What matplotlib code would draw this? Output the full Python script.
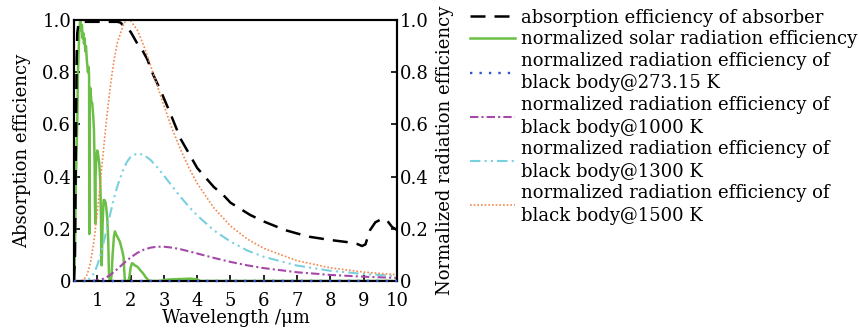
import matplotlib

matplotlib.use("Agg")
import matplotlib.pyplot as plt
from matplotlib.ticker import FixedLocator, FuncFormatter

plt.rcParams["font.family"] = ["DejaVu Serif"]
plt.rcParams["mathtext.fontset"] = "dejavuserif"

# absorber spectrum (left axis)
abs_wl = [0.30, 0.33, 0.36, 0.38, 0.40, 0.43, 0.47, 0.55, 0.8, 1.0, 1.2, 1.4,
          1.6, 1.7, 1.8, 1.9, 2.0, 2.2, 2.35, 2.5, 2.68, 2.9, 3.2, 3.5, 4.0,
          4.5, 4.78, 5.0, 5.59, 6.0, 6.64, 7.0, 7.39, 8.0, 8.5, 8.8, 8.95,
          9.05, 9.19, 9.35, 9.55, 9.7, 9.85, 10.0]
abs_eff = [0.0, 0.10, 0.55, 0.85, 0.95, 0.98, 0.99, 0.993, 0.993, 0.993, 0.993,
           0.993, 0.993, 0.99, 0.975, 0.965, 0.955, 0.91, 0.885, 0.85, 0.79,
           0.73, 0.64, 0.545, 0.433, 0.36, 0.33, 0.30, 0.253, 0.228, 0.195,
           0.182, 0.169, 0.157, 0.149, 0.142, 0.134, 0.14, 0.195, 0.225, 0.238,
           0.232, 0.207, 0.195]

# normalized AM1.5 solar spectrum (left axis)
sun_wl = [0.30, 0.32, 0.34, 0.36, 0.38, 0.40, 0.42, 0.44, 0.46, 0.48, 0.50,
          0.52, 0.54, 0.56, 0.58, 0.60, 0.62, 0.64, 0.66, 0.69, 0.72, 0.74,
          0.755, 0.76, 0.765, 0.79, 0.82, 0.85, 0.88, 0.90, 0.92, 0.93, 0.94,
          0.95, 0.97, 1.00, 1.03, 1.06, 1.09, 1.11, 1.13, 1.14, 1.16, 1.19,
          1.22, 1.25, 1.27, 1.30, 1.33, 1.35, 1.37, 1.40, 1.43, 1.46, 1.50,
          1.53, 1.56, 1.60, 1.64, 1.68, 1.72, 1.76, 1.79, 1.81, 1.83, 1.86,
          1.90, 1.94, 1.97, 2.00, 2.04, 2.08, 2.12, 2.16, 2.20, 2.25, 2.30,
          2.35, 2.40, 2.45, 2.50, 2.55, 2.70, 2.90, 3.00, 3.20, 3.40, 3.60,
          3.80, 4.00, 4.10, 5.0, 6.0, 7.0, 8.0, 9.0, 10.0]
sun_eff = [0.0, 0.05, 0.22, 0.40, 0.50, 0.62, 0.80, 0.88, 0.95, 0.99, 1.00,
           0.96, 0.98, 0.93, 0.95, 0.91, 0.93, 0.88, 0.90, 0.84, 0.80, 0.82,
           0.78, 0.18, 0.70, 0.74, 0.69, 0.68, 0.63, 0.58, 0.45, 0.30, 0.22,
           0.40, 0.47, 0.50, 0.48, 0.45, 0.38, 0.25, 0.06, 0.10, 0.22, 0.31,
           0.31, 0.30, 0.28, 0.24, 0.15, 0.03, 0.0, 0.0, 0.02, 0.10, 0.17,
           0.19, 0.18, 0.17, 0.16, 0.15, 0.13, 0.11, 0.09, 0.04, 0.0, 0.0,
           0.0, 0.0, 0.02, 0.05, 0.068, 0.066, 0.06, 0.058, 0.055, 0.048, 0.04,
           0.033, 0.025, 0.015, 0.008, 0.0, 0.0, 0.0, 0.004, 0.006, 0.007,
           0.008, 0.009, 0.006, 0.0, 0.0, 0.0, 0.0, 0.0, 0.0, 0.0]

# black body spectra normalized to the 1500 K peak (right axis)
bb_wl = [0.3, 0.5, 0.6, 0.7, 0.8, 0.9, 1.0, 1.1, 1.2, 1.3, 1.4, 1.5, 1.6, 1.8,
         1.9, 2.0, 2.2, 2.4, 2.6, 2.8, 3.0, 3.25, 3.5, 3.75, 4.0, 4.5, 5.0,
         5.5, 6.0, 7.0, 8.0, 9.0, 10.0]
bb_273 = [0.0, 0.0, 0.0, 0.0, 0.0, 0.0, 0.0, 0.0, 0.0, 0.0, 0.0, 0.0, 0.0, 0.0,
          0.0, 0.0, 0.0, 0.0, 0.0, 0.0, 0.0, 0.0, 0.0, 0.0, 0.0, 0.00002,
          0.00004, 0.00006, 0.00009, 0.00013, 0.00017, 0.00019, 0.0002]
bb_1000 = [0.0, 0.0, 0.0, 0.0, 0.0002, 0.0007, 0.0022, 0.005, 0.0096, 0.0161,
           0.0245, 0.0344, 0.0454, 0.0685, 0.0796, 0.090, 0.1075, 0.1201,
           0.1278, 0.1313, 0.1313, 0.1277, 0.1216, 0.1138, 0.1054, 0.0885,
           0.0731, 0.060, 0.0493, 0.0334, 0.0232, 0.0164, 0.0119]
bb_1300 = [0.0, 0.0, 0.0005, 0.0031, 0.0115, 0.0296, 0.0598, 0.1016, 0.152,
           0.207, 0.263, 0.3155, 0.362, 0.434, 0.458, 0.475, 0.489, 0.483,
           0.4637, 0.436, 0.404, 0.363, 0.322, 0.285, 0.251, 0.194, 0.151,
           0.117, 0.0926, 0.059, 0.039, 0.0268, 0.0189]
bb_1500 = [0.0, 0.0006, 0.0056, 0.0256, 0.0725, 0.1525, 0.2615, 0.388, 0.520,
           0.645, 0.754, 0.844, 0.912, 0.988, 1.0, 0.997, 0.962, 0.900, 0.826,
           0.749, 0.672, 0.582, 0.504, 0.434, 0.374, 0.280, 0.211, 0.161,
           0.125, 0.0776, 0.0505, 0.0341, 0.0238]

x_ticks = [1, 2, 3, 4, 5, 6, 7, 8, 9, 10]
y_ticks = [0, 0.2, 0.4, 0.6, 0.8, 1.0]

FS = 13

fig = plt.figure(figsize=(8.59, 3.31), dpi=100)
ax = fig.add_axes([0.0861, 0.1511, 0.3761, 0.7885])
ax2 = ax.twinx()

l_abs, = ax.plot(abs_wl, abs_eff, color="black", lw=1.8, dashes=(6, 3.6),
                 zorder=4)
l_sun, = ax.plot(sun_wl, sun_eff, color="#6cbf46", lw=1.8, zorder=3)

l_273, = ax2.plot(bb_wl, bb_273, color="#2f55c8", lw=1.7, dashes=(1, 3),
                  clip_on=False, zorder=5)
l_1000, = ax2.plot(bb_wl, bb_1000, color="#a548a8", lw=1.5,
                   dashes=(4, 1.5, 1, 1.5))
l_1300, = ax2.plot(bb_wl, bb_1300, color="#79d0df", lw=1.5,
                   dashes=(5, 2, 1, 2, 1, 2))
l_1500, = ax2.plot(bb_wl, bb_1500, color="#f4874b", lw=1.2, dashes=(1, 1.2))

fmt = FuncFormatter(lambda v, _: "0" if v == 0 else f"{v:.1f}")
for a in (ax, ax2):
    a.set_xlim(0.3, 10)
    a.set_ylim(0, 1)
    a.yaxis.set_major_locator(FixedLocator(y_ticks))
    a.yaxis.set_major_formatter(fmt)
    a.tick_params(direction="in", length=4, width=1.2, labelsize=FS, pad=2)
    for s in a.spines.values():
        s.set_linewidth(1.5)
ax.xaxis.set_major_locator(FixedLocator(x_ticks))
ax.tick_params(axis="y", right=False)
ax.tick_params(axis="x", top=False, pad=8)

ax.set_xlabel("Wavelength /μm", fontsize=FS, labelpad=-1)
ax.set_ylabel("Absorption efficiency", fontsize=FS, labelpad=8)
ax2.set_ylabel("Normalized radiation efficiency", fontsize=FS, labelpad=5)

handles = [l_abs, l_sun, l_273, l_1000, l_1300, l_1500]
labels = [
    "absorption efficiency of absorber",
    "normalized solar radiation efficiency",
    "normalized radiation efficiency of\nblack body@273.15 K",
    "normalized radiation efficiency of\nblack body@1000 K",
    "normalized radiation efficiency of\nblack body@1300 K",
    "normalized radiation efficiency of\nblack body@1500 K",
]
leg = fig.legend(handles, labels, loc="upper left",
                 bbox_to_anchor=(0.543, 0.985), frameon=False, fontsize=FS,
                 handlelength=2.5, handletextpad=0.3, labelspacing=0.2,
                 borderaxespad=0.1, borderpad=0.1)
for t in leg.get_texts():
    t.set_linespacing(1.33)

fig.savefig("out.png", dpi=100)
